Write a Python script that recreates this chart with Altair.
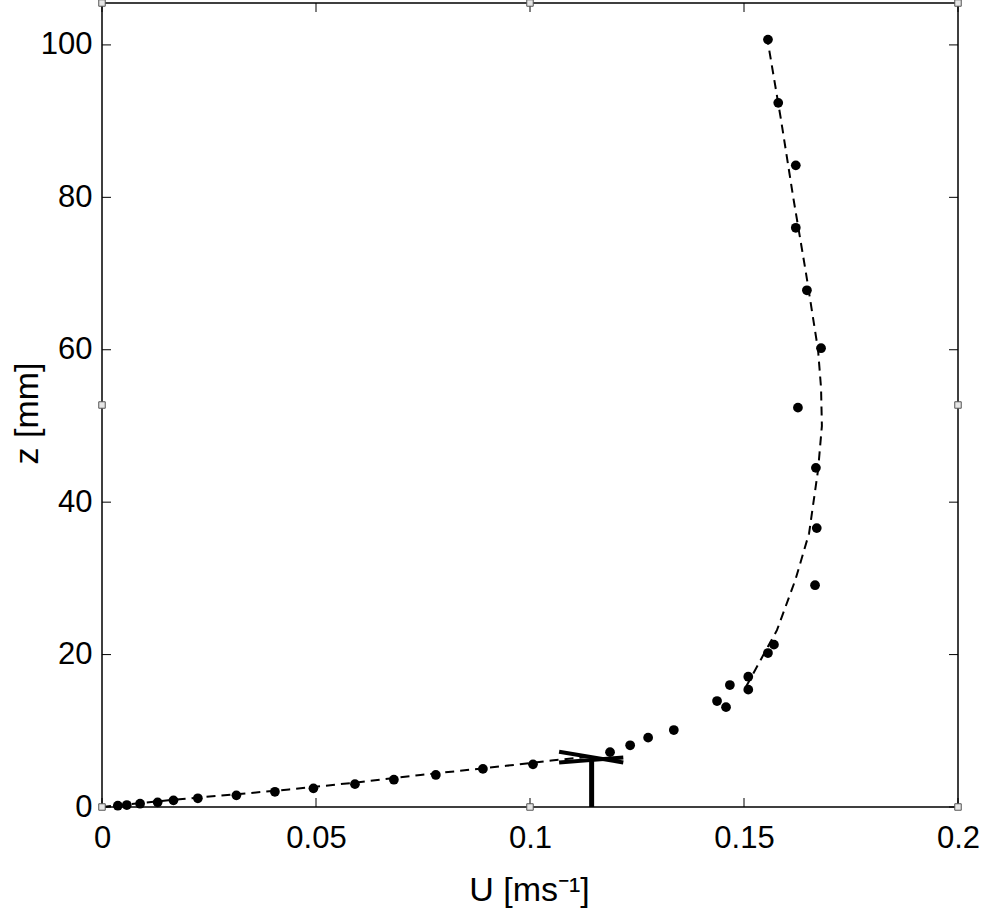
import altair as alt
import pandas as pd

# measured points
U_pts = [0.0037, 0.0058, 0.0089, 0.013, 0.0167, 0.0224, 0.0314, 0.0404, 0.0494, 0.0591,
         0.0682, 0.078, 0.089, 0.1007, 0.1187, 0.1234, 0.1276, 0.1336, 0.1437, 0.1458,
         0.1467, 0.151, 0.151, 0.1556, 0.157, 0.1666, 0.167, 0.1668, 0.1626, 0.168,
         0.1647, 0.1621, 0.1621, 0.158, 0.1556]
z_pts = [0.17, 0.26, 0.43, 0.61, 0.87, 1.14, 1.53, 2.0, 2.45, 3.0,
         3.58, 4.2, 5.0, 5.6, 7.2, 8.1, 9.1, 10.1, 13.9, 13.1,
         16.0, 15.4, 17.1, 20.2, 21.3, 29.1, 36.6, 44.5, 52.4, 60.2,
         67.8, 76.0, 84.2, 92.4, 100.7]

# fitted profile, lower part
U_lo = [0.0, 0.0166, 0.03, 0.0437, 0.06, 0.0744, 0.0944, 0.105, 0.114]
z_lo = [0.0, 0.95, 1.6, 2.3, 3.25, 4.2, 5.4, 6.1, 6.6]

# fitted profile, upper part
U_hi = [0.1505, 0.1535, 0.1577, 0.162, 0.1652, 0.1673, 0.1682, 0.168, 0.1673,
        0.1645, 0.1615, 0.1587, 0.1556]
z_hi = [15.8, 18.9, 23.2, 29.8, 35.9, 44.2, 50.0, 55.0, 60.0,
        70.0, 80.0, 90.0, 100.3]

# marker (stem and crossed bar)
mk_x = [0.1144, 0.1068, 0.1068]
mk_x2 = [0.1144, 0.1218, 0.1218]
mk_y = [0.0, 7.25, 5.85]
mk_y2 = [6.6, 5.85, 6.5]
mk_w = [5.0, 4.0, 4.0]

x_ticks = [0, 0.05, 0.1, 0.15, 0.2]
y_ticks = [0, 20, 40, 60, 80, 100]
X_MAX = 0.2
Y_MAX = 105.5

# frame handles
h_x = [0, 0.1, 0.2, 0.2, 0.2, 0.1, 0, 0]
h_y = [0, 0, 0, 52.75, 105.5, 105.5, 105.5, 52.75]

W, H = 856, 804
FONT = "Liberation Sans"
LFS = 31
TFS = 34

xs = alt.Scale(domain=[0, X_MAX], nice=False, zero=False)
ys = alt.Scale(domain=[0, Y_MAX], nice=False, zero=False)

pts = pd.DataFrame({"U": U_pts, "z": z_pts})
lo = pd.DataFrame({"U": U_lo, "z": z_lo})
hi = pd.DataFrame({"U": U_hi, "z": z_hi, "o": list(range(len(U_hi)))})
mk = pd.DataFrame({"x": mk_x, "x2": mk_x2, "y": mk_y, "y2": mk_y2, "w": mk_w})
xt = pd.DataFrame({"t": x_ticks})
yt = pd.DataFrame({"t": y_ticks})
hd = pd.DataFrame({"U": h_x, "z": h_y})

xaxis = alt.Axis(values=x_ticks, format="~g", ticks=False, tickSize=0, grid=False, domain=False,
                 labelFont=FONT, labelFontSize=LFS, labelColor="black", labelPadding=31,
                 labelBaseline="middle",
                 labelFlush=False, titleFont=FONT, titleFontSize=TFS, titleFontWeight="normal",
                 titleColor="black", titleX=427, titleY=83, titleBaseline="middle",
                 titleAlign="center", title="U [ms⁻¹]")
yaxis = alt.Axis(values=y_ticks, ticks=False, tickSize=0, grid=False, domain=False,
                 labelFont=FONT, labelFontSize=LFS, labelColor="black", labelPadding=10,
                 labelFlush=False, titleFont=FONT, titleFontSize=TFS, titleFontWeight="normal",
                 titleColor="black", titleX=-75, titleY=410, titleBaseline="middle",
                 titleAlign="center", titleAngle=270, title="z [mm]")

base_pts = alt.Chart(pts).mark_circle(size=95, color="black", opacity=1).encode(
    x=alt.X("U:Q", scale=xs, axis=xaxis),
    y=alt.Y("z:Q", scale=ys, axis=yaxis),
)

line_lo = alt.Chart(lo).mark_line(color="black", strokeWidth=2, strokeDash=[9, 6]).encode(
    x=alt.X("U:Q", scale=xs), y=alt.Y("z:Q", scale=ys), order="z:Q")
line_hi = alt.Chart(hi).mark_line(color="black", strokeWidth=2, strokeDash=[9, 6]).encode(
    x=alt.X("U:Q", scale=xs), y=alt.Y("z:Q", scale=ys), order="o:Q")

marker = alt.Chart(mk).mark_rule(color="black").encode(
    x=alt.X("x:Q", scale=xs), x2="x2:Q", y=alt.Y("y:Q", scale=ys), y2="y2:Q",
    strokeWidth=alt.StrokeWidth("w:Q", scale=None, legend=None))

tk = 9
xt_bot = alt.Chart(xt).mark_rule(color="black", strokeWidth=1).encode(
    x=alt.X("t:Q", scale=xs), y=alt.value(H), y2=alt.value(H - tk))
xt_top = alt.Chart(xt).mark_rule(color="black", strokeWidth=1).encode(
    x=alt.X("t:Q", scale=xs), y=alt.value(0), y2=alt.value(tk))
yt_left = alt.Chart(yt).mark_rule(color="black", strokeWidth=1).encode(
    y=alt.Y("t:Q", scale=ys), x=alt.value(0), x2=alt.value(tk))
yt_right = alt.Chart(yt).mark_rule(color="black", strokeWidth=1).encode(
    y=alt.Y("t:Q", scale=ys), x=alt.value(W), x2=alt.value(W - tk))

handles = alt.Chart(hd).mark_square(size=42, fill="#e6e6e6", stroke="#555555",
                                    strokeWidth=1, opacity=1, filled=False, fillOpacity=1).encode(
    x=alt.X("U:Q", scale=xs), y=alt.Y("z:Q", scale=ys))

chart = alt.layer(
    xt_bot, xt_top, yt_left, yt_right, line_lo, line_hi, base_pts, marker, handles
).properties(
    width=W, height=H,
    autosize=alt.AutoSizeParams(type="none"),
    padding={"left": 102, "top": 3, "right": 26, "bottom": 107},
    background="white",
).configure_view(stroke="black", strokeWidth=1.5)

chart.save("out.html", embed_options={"renderer": "svg", "actions": False})
